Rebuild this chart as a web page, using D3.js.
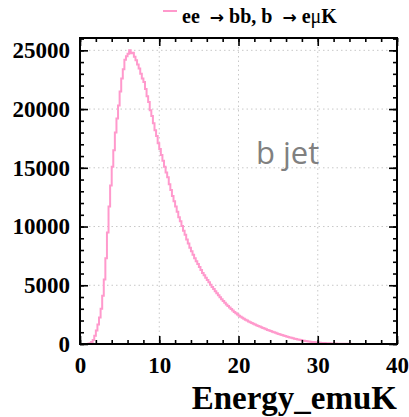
<!DOCTYPE html>
<html>
<head>
<meta charset="utf-8">
<script src="https://cdn.jsdelivr.net/npm/d3@7"></script>
<style>
  html, body { margin: 0; padding: 0; background: #fff; }
  svg { display: block; }
</style>
</head>
<body>
<svg id="chart" width="409" height="417"></svg>
<script>
// Histogram of Energy_emuK: 200 bins of width 0.2 from 0 to 40
const binLow = 0;
const binWidth = 0.2;
const counts = [
  0, 0, 0, 0, 3, 20, 70, 170, 350, 700,
  1150, 1650, 2250, 3000, 4100, 5500, 7300, 9500, 11700, 13500,
  15100, 16500, 18000, 19200, 20300, 21500, 22600, 23400, 24200, 24500,
  24700, 25000, 24750, 24800, 24450, 24150, 23800, 23450, 23000, 22600,
  22300, 21700, 21100, 20600, 19900, 19400, 18800, 18200, 17700, 17100,
  16600, 16100, 15600, 15100, 14600, 14200, 13600, 13100, 12600, 12150,
  11700, 11250, 10800, 10450, 10050, 9650, 9300, 8900, 8550, 8200,
  7900, 7600, 7300, 7050, 6800, 6550, 6300, 6050, 5850, 5650,
  5450, 5250, 5050, 4860, 4680, 4500, 4320, 4150, 3980, 3820,
  3660, 3510, 3370, 3230, 3100, 2970, 2850, 2730, 2620, 2510,
  2410, 2320, 2230, 2150, 2070, 1990, 1920, 1850, 1780, 1720,
  1660, 1600, 1540, 1480, 1420, 1370, 1310, 1260, 1200, 1150,
  1100, 1050, 1000, 950, 900, 855, 810, 765, 720, 680,
  640, 600, 560, 525, 490, 455, 420, 390, 360, 330,
  305, 280, 255, 235, 215, 195, 175, 160, 145, 130,
  118, 106, 95, 85, 76, 68, 61, 54, 48, 43,
  38, 34, 30, 27, 24, 21, 19, 17, 15, 13,
  12, 10, 9, 8, 7, 6, 5, 5, 4, 4,
  3, 3, 2, 2, 2, 2, 1, 1, 1, 1,
  1, 1, 0, 1, 0, 0, 1, 0, 0, 0
];

const xTicks = [0, 10, 20, 30, 40];
const xMinorTicks = d3.range(0, 40.001, 2);
const yTicks = [0, 5000, 10000, 15000, 20000, 25000];
const yMinorTicks = d3.range(0, 26001, 1000);

const xTitle = "Energy_emuK";
const annotation = "b jet";
const lineColor = "#ff99cc";

const svg = d3.select("#chart");
const plotL = 80, plotR = 397, plotT = 38, plotB = 344;

const x = d3.scaleLinear().domain([0, 40]).range([plotL, plotR]);
const y = d3.scaleLinear().domain([0, 26050]).range([plotB, plotT]);

// dotted grid at the major ticks
const grid = svg.append("g").attr("stroke", "#c8c8c8").attr("stroke-width", 1)
  .attr("stroke-dasharray", "1.5,3");
xTicks.filter(t => t > 0 && t < 40).forEach(t => {
  grid.append("line").attr("x1", x(t)).attr("x2", x(t)).attr("y1", plotT).attr("y2", plotB);
});
yTicks.filter(t => t > 0).forEach(t => {
  grid.append("line").attr("x1", plotL).attr("x2", plotR).attr("y1", y(t)).attr("y2", y(t));
});

// histogram drawn as a step outline
const pts = counts.map((c, i) => [binLow + i * binWidth, c]);
pts.push([binLow + counts.length * binWidth, counts[counts.length - 1]]);
svg.append("defs").append("clipPath").attr("id", "plotclip")
  .append("rect").attr("x", plotL).attr("y", plotT).attr("width", plotR - plotL).attr("height", plotB - plotT);
svg.append("path")
  .datum(pts)
  .attr("clip-path", "url(#plotclip)")
  .attr("fill", "none")
  .attr("stroke", lineColor)
  .attr("stroke-width", 2)
  .attr("d", d3.line().x(d => x(d[0])).y(d => y(d[1])).curve(d3.curveStepAfter));

// axes with inward ticks on all four sides
const tickStroke = g => g.selectAll("line").attr("stroke", "#000").attr("stroke-width", 1.6);
const noDomain = g => g.select(".domain").remove();
const labelFont = g => g.selectAll("text")
  .attr("font-family", "'Liberation Serif', 'Times New Roman', serif")
  .attr("font-weight", "bold").attr("font-size", 23).attr("fill", "#000");

svg.append("g").attr("transform", `translate(0,${plotB})`)
  .call(d3.axisBottom(x).tickValues(xMinorTicks).tickSize(-4).tickFormat(""))
  .call(noDomain).call(tickStroke);
svg.append("g").attr("transform", `translate(0,${plotB})`)
  .call(d3.axisBottom(x).tickValues(xTicks).tickSize(-8).tickPadding(13).tickFormat(d3.format("d")))
  .call(noDomain).call(tickStroke).call(labelFont);
svg.append("g").attr("transform", `translate(0,${plotT})`)
  .call(d3.axisTop(x).tickValues(xMinorTicks).tickSize(-4).tickFormat(""))
  .call(noDomain).call(tickStroke);
svg.append("g").attr("transform", `translate(0,${plotT})`)
  .call(d3.axisTop(x).tickValues(xTicks).tickSize(-8).tickFormat(""))
  .call(noDomain).call(tickStroke);

svg.append("g").attr("transform", `translate(${plotL},0)`)
  .call(d3.axisLeft(y).tickValues(yMinorTicks).tickSize(-4).tickFormat(""))
  .call(noDomain).call(tickStroke);
svg.append("g").attr("transform", `translate(${plotL},0)`)
  .call(d3.axisLeft(y).tickValues(yTicks).tickSize(-8).tickPadding(10).tickFormat(d3.format("d")))
  .call(noDomain).call(tickStroke).call(labelFont);
svg.append("g").attr("transform", `translate(${plotR},0)`)
  .call(d3.axisRight(y).tickValues(yMinorTicks).tickSize(-4).tickFormat(""))
  .call(noDomain).call(tickStroke);
svg.append("g").attr("transform", `translate(${plotR},0)`)
  .call(d3.axisRight(y).tickValues(yTicks).tickSize(-8).tickFormat(""))
  .call(noDomain).call(tickStroke);

// frame
svg.append("rect").attr("x", plotL).attr("y", plotT)
  .attr("width", plotR - plotL).attr("height", plotB - plotT)
  .attr("fill", "none").attr("stroke", "#000").attr("stroke-width", 2);

// x-axis title
svg.append("text").attr("x", plotR).attr("y", 409)
  .attr("text-anchor", "end")
  .attr("font-family", "'Liberation Serif', 'Times New Roman', serif")
  .attr("font-weight", "bold").attr("font-size", 33)
  .text(xTitle);

// annotation inside the plot
svg.append("text").attr("x", 256).attr("y", 164)
  .attr("font-family", "'Open Sans', sans-serif")
  .attr("font-size", 31).attr("fill", "#808080")
  .text(annotation);

// legend
svg.append("line").attr("x1", 163).attr("x2", 177).attr("y1", 11).attr("y2", 11)
  .attr("stroke", lineColor).attr("stroke-width", 2);
const leg = svg.append("text").attr("x", 182).attr("y", 23)
  .attr("font-family", "'Liberation Serif', 'Times New Roman', serif")
  .attr("font-weight", "bold").attr("font-size", 20).attr("xml:space", "preserve");
const arrow = t => t.attr("font-family", "'DejaVu Sans', sans-serif").attr("font-size", 17);
leg.append("tspan").text("ee  ");
leg.append("tspan").call(arrow).text("\u2192");
leg.append("tspan").text(" bb, b  ");
leg.append("tspan").call(arrow).text("\u2192");
leg.append("tspan").text(" e");
leg.append("tspan").attr("font-weight", "normal").text("\u03bc");
leg.append("tspan").text("K");
</script>
</body>
</html>
